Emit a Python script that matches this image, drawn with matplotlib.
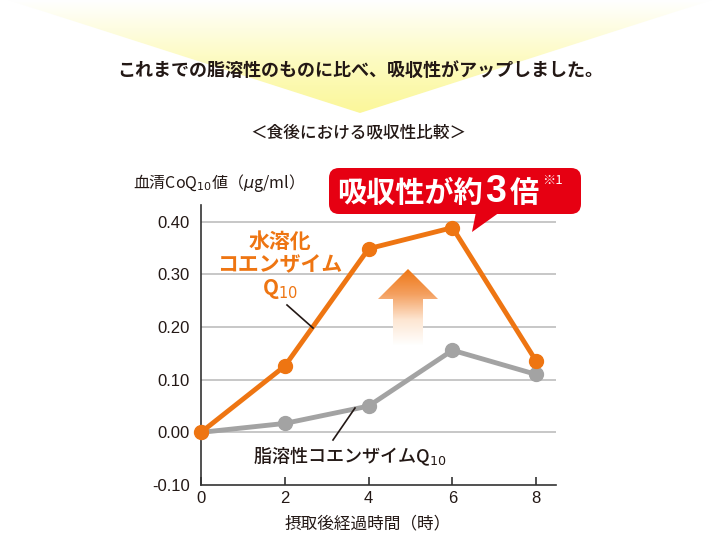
import numpy as np
import matplotlib
matplotlib.use("Agg")
import matplotlib.pyplot as plt
from matplotlib.patches import Polygon, FancyBboxPatch
from matplotlib.colors import LinearSegmentedColormap

plt.rcParams['font.family'] = ['Noto Sans CJK JP', 'DejaVu Sans']

# data
hours = [0, 2, 4, 6, 8]
water_soluble = [0.0, 0.126, 0.349, 0.389, 0.135]
fat_soluble = [0.0, 0.017, 0.050, 0.156, 0.110]
y_ticks = [-0.10, 0.00, 0.10, 0.20, 0.30, 0.40]
x_ticks = [0, 2, 4, 6, 8]

orange = '#ee7512'
grey = '#a3a3a3'
red = '#e60012'
dark = '#231815'

fig = plt.figure(figsize=(7.2, 5.4), dpi=100)

# overlay in pixel coordinates for the decorations
deco = fig.add_axes([0, 0, 1, 1], zorder=0)
deco.set_xlim(0, 720)
deco.set_ylim(540, 0)
deco.axis('off')

# yellow triangle at the top
tri = Polygon([[8, 0], [712, 0], [360, 113]], closed=True, facecolor='none', edgecolor='none')
deco.add_patch(tri)
ycmap = LinearSegmentedColormap.from_list('y', ['#ffffff', '#fdfbc4', '#fbf79a'])
grad = np.linspace(0, 1, 200).reshape(-1, 1)
im = deco.imshow(grad, cmap=ycmap, extent=[0, 720, 113, 0], aspect='auto', zorder=0)
im.set_clip_path(tri)
deco.set_xlim(0, 720)
deco.set_ylim(540, 0)

deco.text(360, 70, 'これまでの脂溶性のものに比べ、吸収性がアップしました。', ha='center', va='center',
          fontsize=13, fontweight='bold', color=dark)
deco.text(358, 132, '＜食後における吸収性比較＞', ha='center', va='center', fontsize=12,
          fontweight='medium', color=dark)
deco.text(133, 183, '血清CoQ$_{10}$値（$\\mu$g/ml）', ha='left', va='center', fontsize=11.5,
          color=dark)
deco.text(368, 524, '摂取後経過時間（時）', ha='center', va='center', fontsize=12, color=dark)

# main chart
ax = fig.add_axes([201 / 720, 55 / 540, 355 / 720, 280 / 540], zorder=2)
ax.patch.set_alpha(0)
ax.set_xlim(0, 8.47)
ax.set_ylim(-0.10, 0.432)
for yv in y_ticks[1:]:
    ax.axhline(yv, color='#bdbdbd', lw=1.2, zorder=1)
ax.plot(hours, fat_soluble, color=grey, lw=3.5, marker='o', markersize=10, zorder=3)
ax.plot(hours, water_soluble, color=orange, lw=3.5, marker='o', markersize=10, zorder=4,
        clip_on=False)
ax.spines['top'].set_visible(False)
ax.spines['right'].set_visible(False)
ax.spines['left'].set_color('#333333')
ax.spines['bottom'].set_color('#333333')
ax.spines['left'].set_linewidth(1.2)
ax.spines['bottom'].set_linewidth(1.2)
ax.set_yticks(y_ticks)
ax.set_yticklabels(['%.2f' % v for v in y_ticks], fontsize=12, color=dark,
                   family=['Liberation Sans', 'DejaVu Sans'])
ax.tick_params(axis='y', length=0, pad=8)
ax.set_xticks(x_ticks)
ax.set_xticklabels([str(v) for v in x_ticks], fontsize=12, color=dark,
                   family=['Liberation Sans', 'DejaVu Sans'])
ax.tick_params(axis='x', direction='in', length=6, width=1.2, color='#333333', pad=4)

# top overlay for labels and call-out
top = fig.add_axes([0, 0, 1, 1], zorder=5)
top.set_xlim(0, 720)
top.set_ylim(540, 0)
top.axis('off')

top.text(280, 266, '水溶化\nコエンザイム\nQ$_{10}$', ha='center', va='center', fontsize=15,
         fontweight='bold', color=orange, linespacing=1.1)
top.plot([287, 313], [305, 328], color=dark, lw=1.2)
top.text(350, 456, '脂溶性コエンザイムQ$_{10}$', ha='center', va='center', fontsize=13,
         fontweight='medium', color=dark)
top.plot([333, 355], [440, 408], color=dark, lw=1.2)

# gradient arrow
arrow = Polygon([[408, 269], [438, 299], [423, 299], [423, 345], [393, 345], [393, 299],
                 [378, 299]], closed=True, facecolor='none', edgecolor='none')
top.add_patch(arrow)
acmap = LinearSegmentedColormap.from_list('a', ['#ee7512', '#f4a060', '#fde6d2', '#ffffff'])
aim = top.imshow(np.linspace(0, 1, 100).reshape(-1, 1), cmap=acmap, extent=[375, 441, 346, 268],
                 aspect='auto')
aim.set_clip_path(arrow)
top.set_xlim(0, 720)
top.set_ylim(540, 0)

# red call-out
box = FancyBboxPatch((329, 168), 252, 46, boxstyle='round,pad=0,rounding_size=10',
                     facecolor=red, edgecolor='none')
top.add_patch(box)
top.add_patch(Polygon([[476, 212], [500, 212], [472, 232]], closed=True, facecolor=red,
                      edgecolor='none'))

# place the call-out pieces one after another
renderer = fig.canvas.get_renderer()
to_data = top.transData.inverted()


def right_edge(t):
    bb = t.get_window_extent(renderer)
    return to_data.transform((bb.x1, bb.y0))[0]


t1 = top.text(337, 193, '吸収性が約', ha='left', va='center', fontsize=21, fontweight='bold',
              color='white')
t2 = top.text(right_edge(t1) + 3, 192, '3', ha='left', va='center', fontsize=27,
              fontweight='bold', color='white', family=['Liberation Sans', 'DejaVu Sans'])
t3 = top.text(right_edge(t2) + 3, 193, '倍', ha='left', va='center', fontsize=21,
              fontweight='bold', color='white')
top.text(right_edge(t3) + 3, 180, '※1', ha='left', va='center', fontsize=9.5, color='white')

fig.savefig('out.png', dpi=100)
